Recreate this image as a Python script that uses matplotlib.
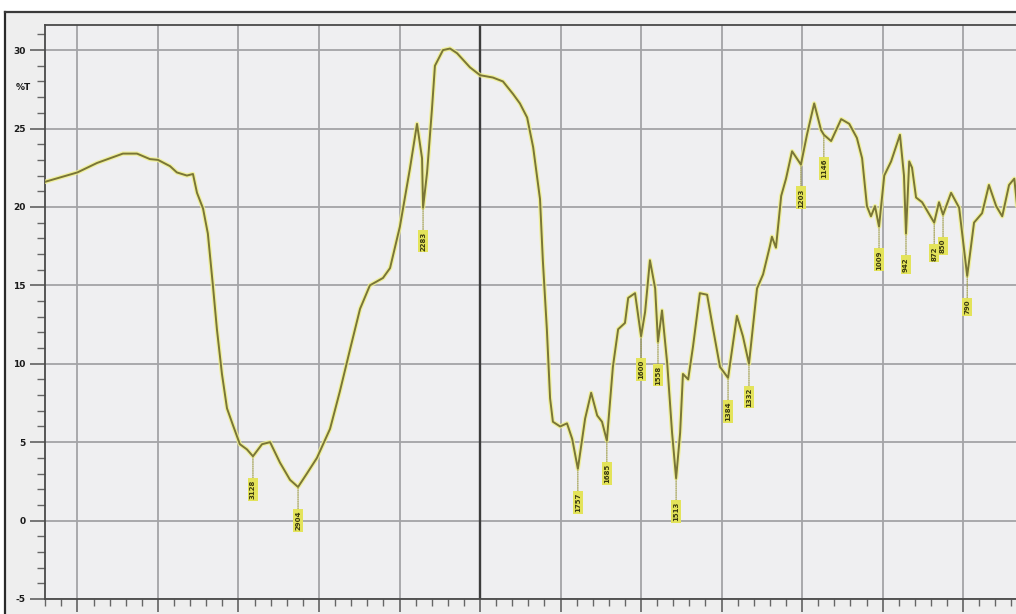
import numpy as np
import matplotlib
matplotlib.use("Agg")
import matplotlib.pyplot as plt
from matplotlib.lines import Line2D
from matplotlib.patches import Rectangle
from matplotlib.ticker import FixedLocator

# spectrum: wavenumber (1/cm) and %T
wavenumber = [4161, 4000, 3903, 3774, 3704, 3640, 3600, 3540, 3506, 3456, 3426, 3406,
              3376, 3352, 3327, 3307, 3282, 3257, 3227, 3193, 3158, 3128, 3083, 3043,
              2994, 2944, 2904, 2860, 2810, 2745, 2696, 2646, 2596, 2547, 2482, 2447,
              2398, 2348, 2313, 2288, 2283, 2263, 2239, 2224, 2184, 2149, 2114, 2050,
              2000, 1968, 1943, 1918, 1901, 1883, 1868, 1851, 1844, 1834, 1826, 1819,
              1801, 1784, 1771, 1757, 1739, 1724, 1709, 1697, 1685, 1670, 1657, 1640,
              1632, 1615, 1600, 1590, 1578, 1565, 1558, 1548, 1535, 1523, 1513, 1503,
              1496, 1483, 1471, 1454, 1436, 1421, 1404, 1384, 1362, 1347, 1332, 1312,
              1297, 1280, 1275, 1265, 1252, 1240, 1225, 1203, 1188, 1170, 1153, 1146,
              1128, 1103, 1083, 1064, 1051, 1039, 1029, 1019, 1009, 996, 979, 957,
              947, 942, 934, 927, 917, 902, 872, 860, 850, 830, 810, 790,
              773, 753, 736, 718, 703, 686, 673, 666, 640]
transmittance = [21.6, 22.2, 22.8, 23.4, 23.4, 23.05, 23.0, 22.6, 22.2, 22.0, 22.1, 20.9,
                 19.9, 18.3, 15.0, 12.2, 9.35, 7.16, 6.07, 4.87, 4.54, 4.1, 4.87, 5.0,
                 3.7, 2.6, 2.14, 3.0, 4.0, 5.85, 8.25, 10.9, 13.5, 15.0, 15.47, 16.1,
                 18.75, 22.46, 25.3, 23.1, 19.95, 22.2, 26.2, 29.0, 30.0, 30.1, 29.8, 28.9,
                 28.4, 28.25, 28.0, 27.2, 26.6, 25.7, 23.8, 20.5, 16.6, 12.2, 7.8, 6.3,
                 6.0, 6.2, 5.2, 3.3, 6.5, 8.15, 6.7, 6.3, 5.1, 9.8, 12.2, 12.6,
                 14.2, 14.5, 11.75, 13.3, 16.6, 14.8, 11.4, 13.4, 10.0, 5.6, 2.7, 5.6,
                 9.35, 9.0, 11.1, 14.5, 14.4, 12.2, 9.8, 9.1, 13.05, 11.75, 10.0, 14.8,
                 15.7, 17.5, 18.1, 17.4, 20.7, 21.8, 23.55, 22.7, 24.6, 26.6, 24.9, 24.6,
                 24.2, 25.6, 25.3, 24.4, 23.1, 20.05, 19.4, 20.05, 18.75, 22.0, 22.9, 24.6,
                 22.0, 18.3, 22.9, 22.5, 20.6, 20.3, 19.0, 20.3, 19.5, 20.9, 19.95, 15.6,
                 19.0, 19.6, 21.4, 20.05, 19.4, 21.4, 21.8, 20.05, 20.6]

# labelled peaks
peak_wn = [3128, 2904, 2283, 1757, 1685, 1600, 1558, 1513, 1384, 1332,
           1203, 1146, 1009, 942, 872, 850, 790]
peak_t = [4.1, 2.14, 19.95, 3.3, 5.1, 11.75, 11.4, 2.7, 9.1, 10.0,
          22.7, 24.6, 18.75, 18.3, 19.0, 19.5, 15.6]

major_x = [4000, 3600, 3200, 2800, 2400, 2000, 1800, 1600, 1400, 1200, 1000, 800]
y_ticks = [-5, 0, 5, 10, 15, 20, 25, 30]


# scale change at 2000 1/cm: 400 per grid above, 200 per grid below
def fwd(w):
    w = np.asarray(w, dtype=float)
    return np.where(w >= 2000, (w - 2000) / 400.0, (w - 2000) / 200.0)


def inv(u):
    u = np.asarray(u, dtype=float)
    return np.where(u >= 0, 2000 + 400.0 * u, 2000 + 200.0 * u)


W, H = 1016, 614
fig = plt.figure(figsize=(W / 100, H / 100), dpi=100, facecolor="white")
fig.add_artist(Rectangle((5 / W, 0), 1, 1 - 12 / H, transform=fig.transFigure,
                         facecolor="#eeeeee", edgecolor="none", zorder=0))
fig.add_artist(Line2D([5 / W, 5 / W], [0, 1 - 12 / H], transform=fig.transFigure,
                      color="#2a2a2a", lw=1.6))
fig.add_artist(Line2D([5 / W, 1], [1 - 12 / H, 1 - 12 / H], transform=fig.transFigure,
                      color="#3a3a3a", lw=1.6))

ax = fig.add_axes([45 / W, 15 / H, (1030 - 45) / W, (599 - 25) / H])
ax.set_facecolor("#efeff1")
ax.set_xscale("function", functions=(fwd, inv))
ax.set_xlim(4161, 634)
ax.set_ylim(-5, 31.6)

minor_x = list(np.arange(4160, 2000, -80)) + list(np.arange(2000, 630, -40))
ax.xaxis.set_major_locator(FixedLocator(major_x))
ax.xaxis.set_minor_locator(FixedLocator(minor_x))
ax.set_yticks(y_ticks)
ax.yaxis.set_minor_locator(FixedLocator(np.arange(-5, 32, 1)))
ax.set_yticklabels([str(v) for v in y_ticks], fontsize=6.5, fontweight="bold", color="#1a1a1a")
# tick labels sit mostly below the bottom edge, as in the cropped original
ax.set_xticklabels([str(v) for v in major_x], fontsize=8, fontweight="bold", color="#1a1a1a")

ax.grid(which="major", color="#a3a3a6", lw=1.3)
ax.axvline(2000, color="#3c3c3c", lw=1.7, zorder=1.5)
ax.set_axisbelow(True)

ax.tick_params(axis="y", which="major", direction="out", length=11, width=1.1, color="#555555", pad=3)
ax.tick_params(axis="y", which="minor", direction="out", length=6, width=1.0, color="#666666")
ax.tick_params(axis="x", which="major", direction="out", length=9, width=1.1, color="#555555", pad=3)
ax.tick_params(axis="x", which="minor", direction="out", length=5, width=1.0, color="#666666")
for side in ["left", "bottom", "top"]:
    ax.spines[side].set_color("#4a4a4a")
    ax.spines[side].set_linewidth(1.3)
ax.spines["right"].set_visible(False)

ax.text(-0.03, 27.6, "%T", transform=ax.get_yaxis_transform(), fontsize=6.5,
        fontweight="bold", ha="left", va="center", color="#1a1a1a")

# spectrum with a light yellow halo
ax.plot(wavenumber, transmittance, color="#f0ef8a", lw=3.2, alpha=0.8, zorder=3)
ax.plot(wavenumber, transmittance, color="#7a7636", lw=1.4, zorder=4)

for w, t in zip(peak_wn, peak_t):
    ax.annotate(f"{w}", xy=(w, t), xytext=(0, -17), textcoords="offset points",
                rotation=90, ha="center", va="top", fontsize=5, fontweight="bold",
                color="#3b3a10", zorder=5,
                bbox=dict(boxstyle="square,pad=0.25", fc="#e3e35a", ec="none"),
                arrowprops=dict(arrowstyle="-", linestyle=(0, (1, 1)), color="#9a9840",
                                lw=0.8, shrinkA=0, shrinkB=1))

fig.savefig("out.png", dpi=100)
